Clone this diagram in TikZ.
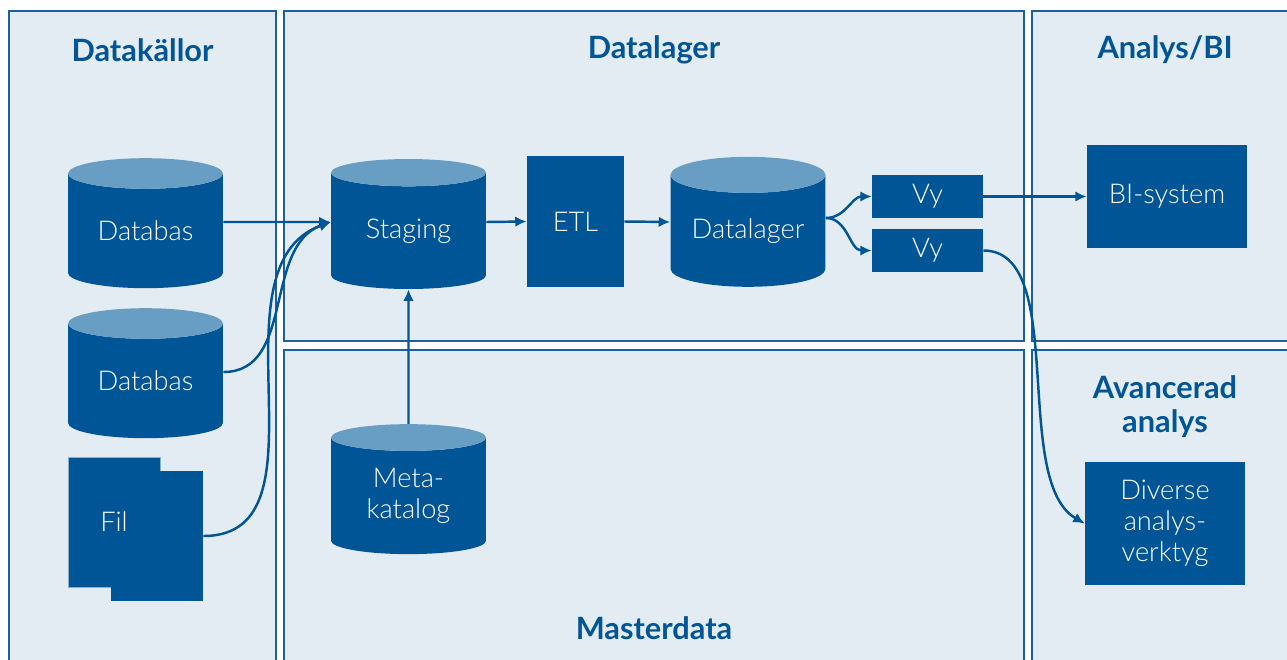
\documentclass[tikz,border=0pt]{standalone}
\usepackage{fontspec}
\setmainfont{Lato}
\newfontfamily\thinlato{Lato}[UprightFont=* Light]
\usetikzlibrary{arrows.meta,shapes.geometric}

\begin{document}
\begin{tikzpicture}[x=0.02cm,y=-0.02cm,>={Latex[length=6.5pt,width=6pt]},
  panel/.style={draw=panelline,fill=panelfill,line width=1.1pt},
  title/.style={font=\fontsize{17.5}{19.5}\selectfont\bfseries,text=darkblue,align=center},
  cyl/.style={cylinder,shape border rotate=90,aspect=.32,draw=none,cylinder uses custom fill,cylinder body fill=darkblue,cylinder end fill=toplight,minimum width=3.1cm,minimum height=2.6cm,inner sep=0pt,text=white,font=\thinlato\fontsize{15.5}{18}\selectfont,align=center},
  box/.style={fill=darkblue,inner sep=0pt,text=white,font=\thinlato\fontsize{15.5}{17.6}\selectfont,align=center},
  flow/.style={->,line width=1.4pt,draw=darkblue}]
\definecolor{darkblue}{RGB}{0,85,150}
\definecolor{toplight}{RGB}{104,157,196}
\definecolor{panelfill}{RGB}{228,236,243}
\definecolor{panelline}{RGB}{30,95,155}
\useasboundingbox (0,0) rectangle (1287,659);
\fill[white] (0,0) rectangle (1287,659);
\clip (0,0) rectangle (1287,659);
% panels
\draw[panel] (9,11) rectangle (276,690);
\draw[panel] (284,11) rectangle (1024,341);
\draw[panel] (284,350) rectangle (1024,690);
\draw[panel] (1032,11) rectangle (1310,341);
\draw[panel] (1032,350) rectangle (1310,690);
\node[title] (tsrc) at (142.5,50) {Datakällor};
\node[title] (tdw) at (654,50) {Datalager};
\node[title] (tbi) at (1165,50) {Analys/BI};
\node[title] (tadv) at (1165,407) {Avancerad\\analys};
\node[title] (tmd) at (654,628) {Masterdata};
% sources
\node[cyl] (db1) at (145.5,231) {Databas};
\node[cyl] (db2) at (145.5,381) {Databas};
\node[box,minimum width=1.84cm,minimum height=2.6cm,draw=toplight!80,line width=.4pt] (filback) at (114,522) {};
\node[box,minimum width=1.84cm,minimum height=2.6cm] (fil) at (157,536) {};
\node[box,fill=none] at (filback.center) {Fil};
% warehouse
\node[cyl] (stg) at (408.5,231) {Staging};
\node[box,minimum width=1.94cm,minimum height=2.62cm] (etl) at (575.5,221.5) {ETL};
\node[cyl] (dl) at (748,231) {Datalager};
\node[box,minimum width=2.22cm,minimum height=.86cm] (vy1) at (927.5,196.5) {Vy};
\node[box,minimum width=2.22cm,minimum height=.86cm] (vy2) at (927.5,250.5) {Vy};
\node[cyl] (meta) at (408.5,496) {Meta-\\katalog};
% analysis
\node[box,minimum width=3.2cm,minimum height=2.06cm] (bi) at (1167,196.5) {BI-system};
\node[box,minimum width=3.2cm,minimum height=2.46cm] (div) at (1165,523.5) {Diverse\\analys-\\verktyg};
% flows
\draw[flow] ([yshift=.18cm]db1.east) -- ([yshift=.18cm]stg.west);
\draw[flow] ([yshift=.18cm]db2.east) to[out=0,in=200] ([yshift=.18cm]stg.west);
\draw[flow] (fil.east) to[out=0,in=200] ([yshift=.18cm]stg.west);
\draw[flow] ([yshift=.18cm]stg.east) -- (etl.west);
\draw[flow] (etl.east) -- ([yshift=.18cm]dl.west);
\draw[flow] ([yshift=.26cm]dl.east) to[out=0,in=180] (vy1.west);
\draw[flow] ([yshift=.26cm]dl.east) to[out=0,in=180] (vy2.west);
\draw[flow] (vy1.east) -- (bi.west);
\draw[flow] (vy2.east) to[out=0,in=150,looseness=.75] (div.west);
\draw[flow] (meta.north) -- (stg.south);
\end{tikzpicture}
\end{document}
